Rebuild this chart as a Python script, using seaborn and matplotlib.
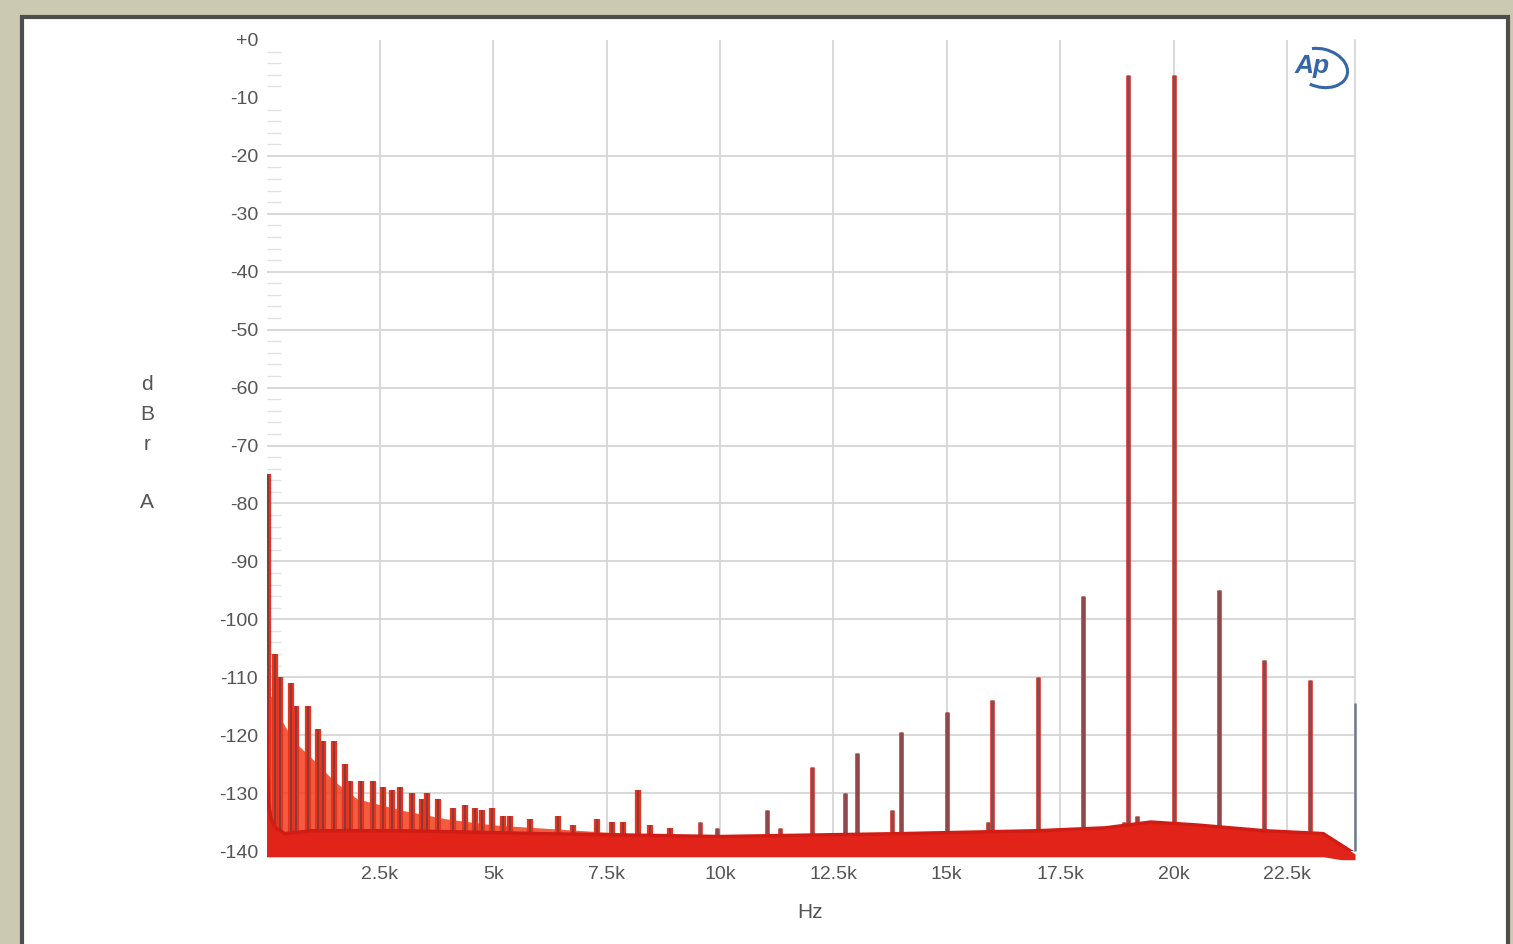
import numpy as np
import pandas as pd
import matplotlib
matplotlib.use("Agg")
import matplotlib.pyplot as plt
from matplotlib.patches import Rectangle, Arc
import seaborn as sns

# ---------------- data ----------------
# discrete spectral lines: frequency (Hz) and level (dBrA)
spike_hz = [30, 190, 300, 540, 660, 910, 1130, 1250, 1490, 1730, 1840, 2080, 2350,
            2570, 2770, 2940, 3200, 3430, 3540, 3780, 4120, 4380, 4600, 4750, 4970,
            5220, 5370, 5810, 6430, 6760, 7290, 7620, 7860, 8190, 8460, 8900, 9560,
            9930, 11040, 11320, 12030, 12760, 13020, 13790, 14000, 15000, 15900, 16000,
            17000, 18000, 18900, 19000, 19200, 20000, 21000, 22000, 23000]
spike_db = [-75, -106, -110, -111, -115, -115, -119, -121, -121, -125, -128, -128, -128,
            -129, -129.5, -129, -130, -131, -130, -131, -132.5, -132, -132.5, -133, -132.5,
            -134, -134, -134.5, -134, -135.5, -134.5, -135, -135, -129.5, -135.5, -136, -135,
            -136, -133, -136, -125.5, -130, -123, -133, -119.5, -116, -135, -114,
            -110, -96, -135, -6, -134, -6, -95, -107, -110.5]
edge_hz = [23990]
edge_db = [-114.5]

# noise floor band
floor_hz = [0, 20, 50, 100, 200, 400, 1000, 3000, 6000, 10000, 14000, 17000, 18500,
            19500, 20500, 22000, 23300, 23700, 24000]
floor_hi = [-110, -126, -132, -134.5, -136, -137, -136.5, -136.5, -137, -137.5, -137,
            -136.5, -136, -135, -135.5, -136.5, -137, -139, -140.5]
floor_lo = [-141, -141, -141, -141, -141, -141, -141, -141, -141, -141, -141, -141, -141,
            -141, -141, -141, -141, -141.5, -141.5]

# low-frequency "grass" envelope
grass_hz = [0, 150, 300, 600, 1000, 1500, 2000, 3000, 4000, 5000, 6000, 8000, 9000]
grass_db = [-112, -114, -117, -121, -124, -128, -131, -133, -134.5, -135.5, -136, -137, -137.5]

x_ticks = [2500, 5000, 7500, 10000, 12500, 15000, 17500, 20000, 22500]
x_labels = ["2.5k", "5k", "7.5k", "10k", "12.5k", "15k", "17.5k", "20k", "22.5k"]
y_ticks = list(range(0, -150, -10))
y_labels = ["+0"] + [str(v) for v in y_ticks[1:]]

# ---------------- figure ----------------
sns.set_theme(style="whitegrid")
plt.rcParams['font.family'] = ['Liberation Sans', 'DejaVu Sans']

fig = plt.figure(figsize=(15.13, 9.44), dpi=100)
fig.patch.set_facecolor("#cbc9b2")
W, H = 1513, 944

# white panel drawn in a background axes
bg = fig.add_axes([0, 0, 1, 1], zorder=-5)
bg.set_xlim(0, W)
bg.set_ylim(H, 0)
bg.axis("off")
bg.add_patch(Rectangle((22, 17), 1508 - 22, 944 - 17 + 20, facecolor="white",
                       edgecolor="#4d4d4d", linewidth=3))
bg.add_patch(Arc((1321, 68), 54, 38, angle=15, theta1=-130, theta2=110,
                 color="#3567a8", linewidth=2.2))
bg.text(1312, 66, "Ap", ha="center", va="center", fontsize=19, color="#3567a8",
        style="italic", fontweight="bold")
for ch, yy in zip(["d", "B", "r", "A"], [385, 414, 444, 503]):
    bg.text(147, yy, ch, ha="center", va="center", fontsize=15, color="#555555")
bg.text(810, 913, "Hz", ha="center", va="center", fontsize=15, color="#555555")

ax = fig.add_axes([266.5 / W, 1 - 851 / H, (1355 - 266.5) / W, (851 - 40) / H], zorder=1)
ax.set_facecolor("none")

# spectral lines: red channel underneath, blue channel core on top (below floor band)
low = [(f, d) for f, d in zip(spike_hz, spike_db) if f < 9000]
high = [(f, d) for f, d in zip(spike_hz, spike_db) if f >= 9000]
lf, ld = zip(*low)
hf, hd = zip(*high)
ax.vlines(lf, -139, ld, color="#e8341c", linewidth=4.5, zorder=2.5)
ax.vlines(lf, -139, ld, color="#8a3a3a", linewidth=1.4, zorder=2.6)
ax.vlines(hf, -139, hd, color="#e23a2c", linewidth=3.4, zorder=2.5)
ax.vlines(hf, -139, hd, color="#7a4f55", linewidth=1.8, zorder=2.6)
ax.vlines(edge_hz, -140, edge_db, color="#6d7a8c", linewidth=1.8, zorder=2.6, clip_on=False)

# low-frequency grass and floor band
ax.fill_between(grass_hz, -140, grass_db, color="#f0401e", alpha=0.85, linewidth=0, zorder=2)
ax.fill_between(floor_hz, floor_lo, floor_hi, color="#e2231a", linewidth=0, zorder=3,
                clip_on=False)
sns.lineplot(x=floor_hz, y=floor_hi, ax=ax, color="#d01c14", linewidth=2.5, zorder=4)

ax.set_xlim(0, 24000)
ax.set_ylim(-140, 0)
ax.set_xticks(x_ticks)
ax.set_xticklabels(x_labels)
ax.set_yticks(y_ticks)
ax.set_yticklabels(y_labels)
ax.set_yticks(np.arange(-140, 0, 2), minor=True)
ax.tick_params(axis="x", which="major", length=0, pad=11, labelsize=14, labelcolor="#555555")
ax.tick_params(axis="y", which="major", length=0, pad=6, labelsize=14, labelcolor="#555555")
ax.tick_params(axis="y", which="minor", direction="in", length=10, width=1, color="#e2e2e2", left=True)
ax.grid(True, which="major", color="#d6d6d6", linewidth=1.3)
ax.grid(False, which="minor")
for gl, v in zip(ax.get_ygridlines(), y_ticks):
    if v >= -10:
        gl.set_visible(False)
for s in ["left", "top", "bottom"]:
    ax.spines[s].set_visible(False)
ax.spines["right"].set_visible(True)
ax.spines["right"].set_color("#d6d6d6")
ax.set_xlabel("")
ax.set_ylabel("")

fig.savefig("out.png", dpi=100, facecolor=fig.get_facecolor())
